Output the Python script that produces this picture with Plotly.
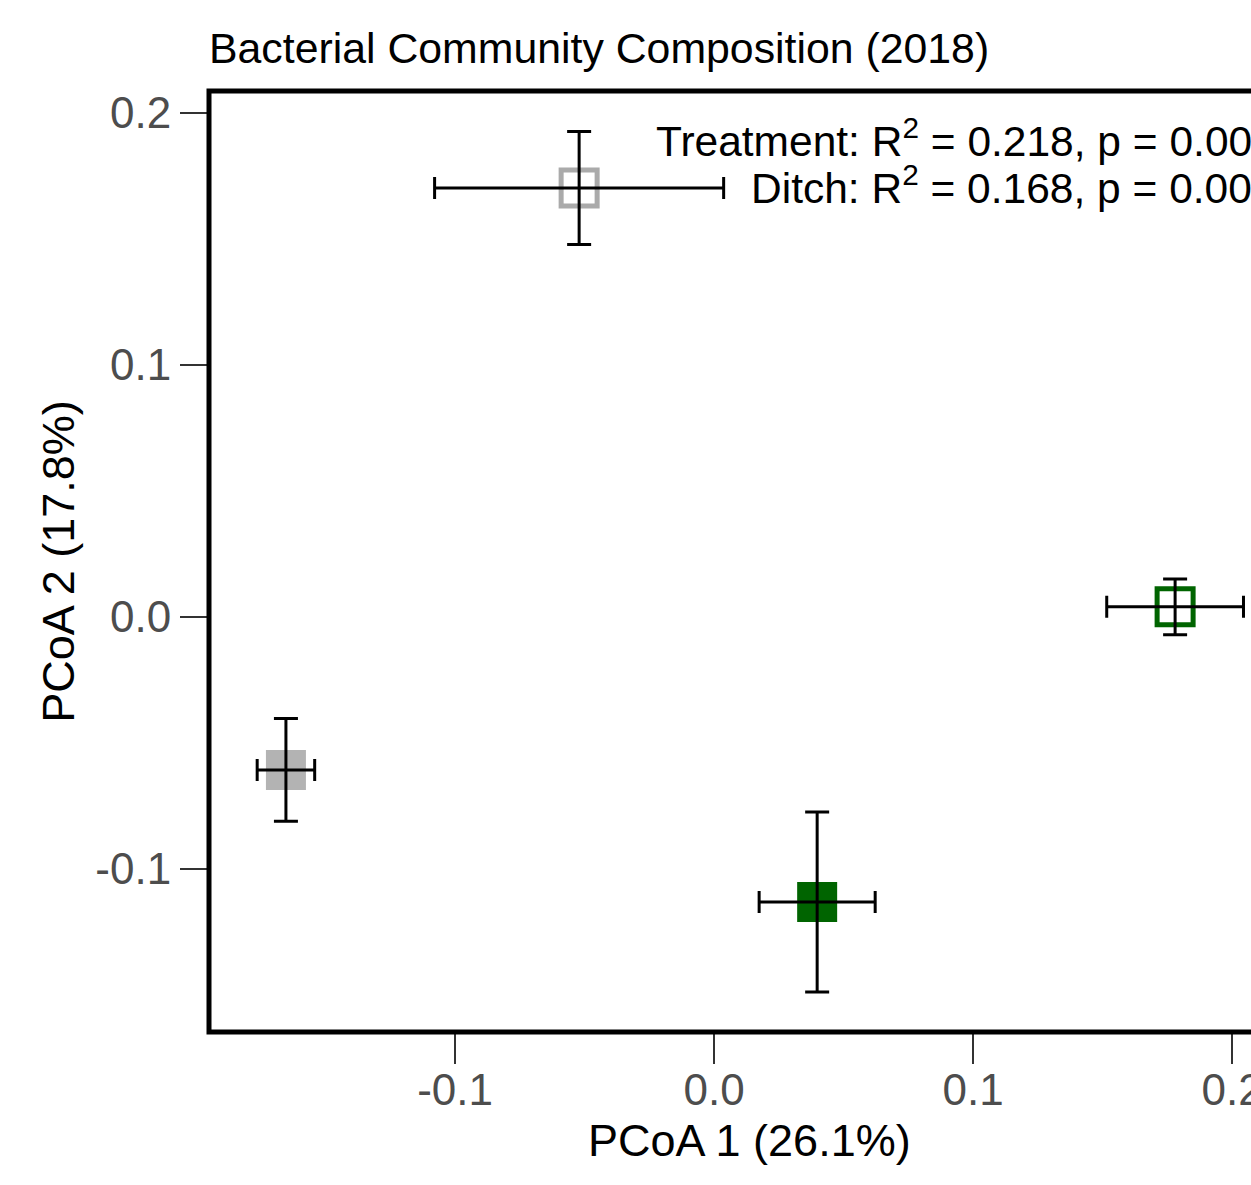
import plotly.graph_objects as go

# ---- data ----
groups = ["Gray open", "Green open", "Gray filled", "Green filled"]
pc1 = [-0.0521, 0.1780, -0.1653, 0.0398]
pc2 = [0.1702, 0.0040, -0.0607, -0.1131]
pc1_err = [0.0558, 0.0264, 0.0111, 0.0224]
pc2_err = [0.0224, 0.0111, 0.0204, 0.0357]
marker_symbols = ["square-open", "square-open", "square", "square"]
marker_colors = ["#aaaaaa", "#006400", "#b3b3b3", "#006400"]

x_tickvals = [-0.1, 0.0, 0.1, 0.2]
x_ticktext = ["-0.1", "0.0", "0.1", "0.2"]
y_tickvals = [-0.1, 0.0, 0.1, 0.2]
y_ticktext = ["-0.1", "0.0", "0.1", "0.2"]

stats_lines = ["Treatment: R<sup>2</sup> = 0.218, p = 0.001",
               "Ditch: R<sup>2</sup> = 0.168, p = 0.001"]
stats_y = [0.1901, 0.1714]

FONT = "Arial, Liberation Sans, sans-serif"

fig = go.Figure()

# markers (beneath error bars)
for i in range(len(groups)):
    is_open = marker_symbols[i].endswith("open")
    fig.add_trace(go.Scatter(
        x=[pc1[i]], y=[pc2[i]], mode="markers", name=groups[i],
        marker=dict(symbol=marker_symbols[i], size=36 if is_open else 40,
                    color=marker_colors[i],
                    line=dict(width=5 if is_open else 0, color=marker_colors[i])),
        showlegend=False, cliponaxis=False))

# error bars on top
fig.add_trace(go.Scatter(
    x=pc1, y=pc2, mode="markers",
    marker=dict(size=1, opacity=0),
    error_x=dict(type="data", array=pc1_err, color="black", thickness=3, width=11),
    error_y=dict(type="data", array=pc2_err, color="black", thickness=3, width=12),
    showlegend=False, cliponaxis=False, hoverinfo="skip"))

for txt, yy in zip(stats_lines, stats_y):
    fig.add_annotation(text=txt, xref="paper", x=1.026, xanchor="right",
                       yref="y", y=yy, yanchor="middle", showarrow=False,
                       font=dict(family=FONT, size=42.5, color="black"))

# x-axis title (centered on the original, wider panel)
fig.add_annotation(text="PCoA 1 (26.1%)", xref="paper", x=0.519, xanchor="center",
                   yref="paper", y=-0.115, yanchor="middle", showarrow=False,
                   font=dict(family=FONT, size=45, color="black"))

# panel frame (left, top, bottom; right side runs past the image edge)
fig.add_shape(type="path", xref="paper", yref="paper",
              path="M 1.1,1 L 0,1 L 0,0 L 1.1,0",
              line=dict(color="black", width=5), layer="above")

fig.update_layout(
    width=1251, height=1185,
    margin=dict(l=209, r=0, t=91, b=153),
    paper_bgcolor="white", plot_bgcolor="white",
    font=dict(family=FONT),
    title=dict(text="Bacterial Community Composition (2018)",
               x=0, xref="paper", xanchor="left",
               y=1 - 48 / 1185, yref="container", yanchor="middle",
               font=dict(family=FONT, size=42.8, color="black")),
    showlegend=False,
)

fig.update_xaxes(
    range=[-0.195, 0.2073], showgrid=False, zeroline=False,
    showline=False,
    ticks="outside", ticklen=31, tickwidth=2, tickcolor="#333333",
    tickvals=x_tickvals, ticktext=x_ticktext,
    tickfont=dict(family=FONT, size=44, color="#4d4d4d"),
    ticklabelstandoff=-12,
    ticklabeloverflow="allow", automargin=False,
)
fig.update_yaxes(
    range=[-0.1647, 0.2087], showgrid=False, zeroline=False,
    showline=False,
    ticks="outside", ticklen=28, tickwidth=2, tickcolor="#333333",
    tickvals=y_tickvals, ticktext=y_ticktext,
    tickfont=dict(family=FONT, size=44, color="#4d4d4d"),
    title=dict(text="PCoA 2 (17.8%)", font=dict(family=FONT, size=45, color="black"),
               standoff=6),
    automargin=False,
)

fig.write_html("out.html")
